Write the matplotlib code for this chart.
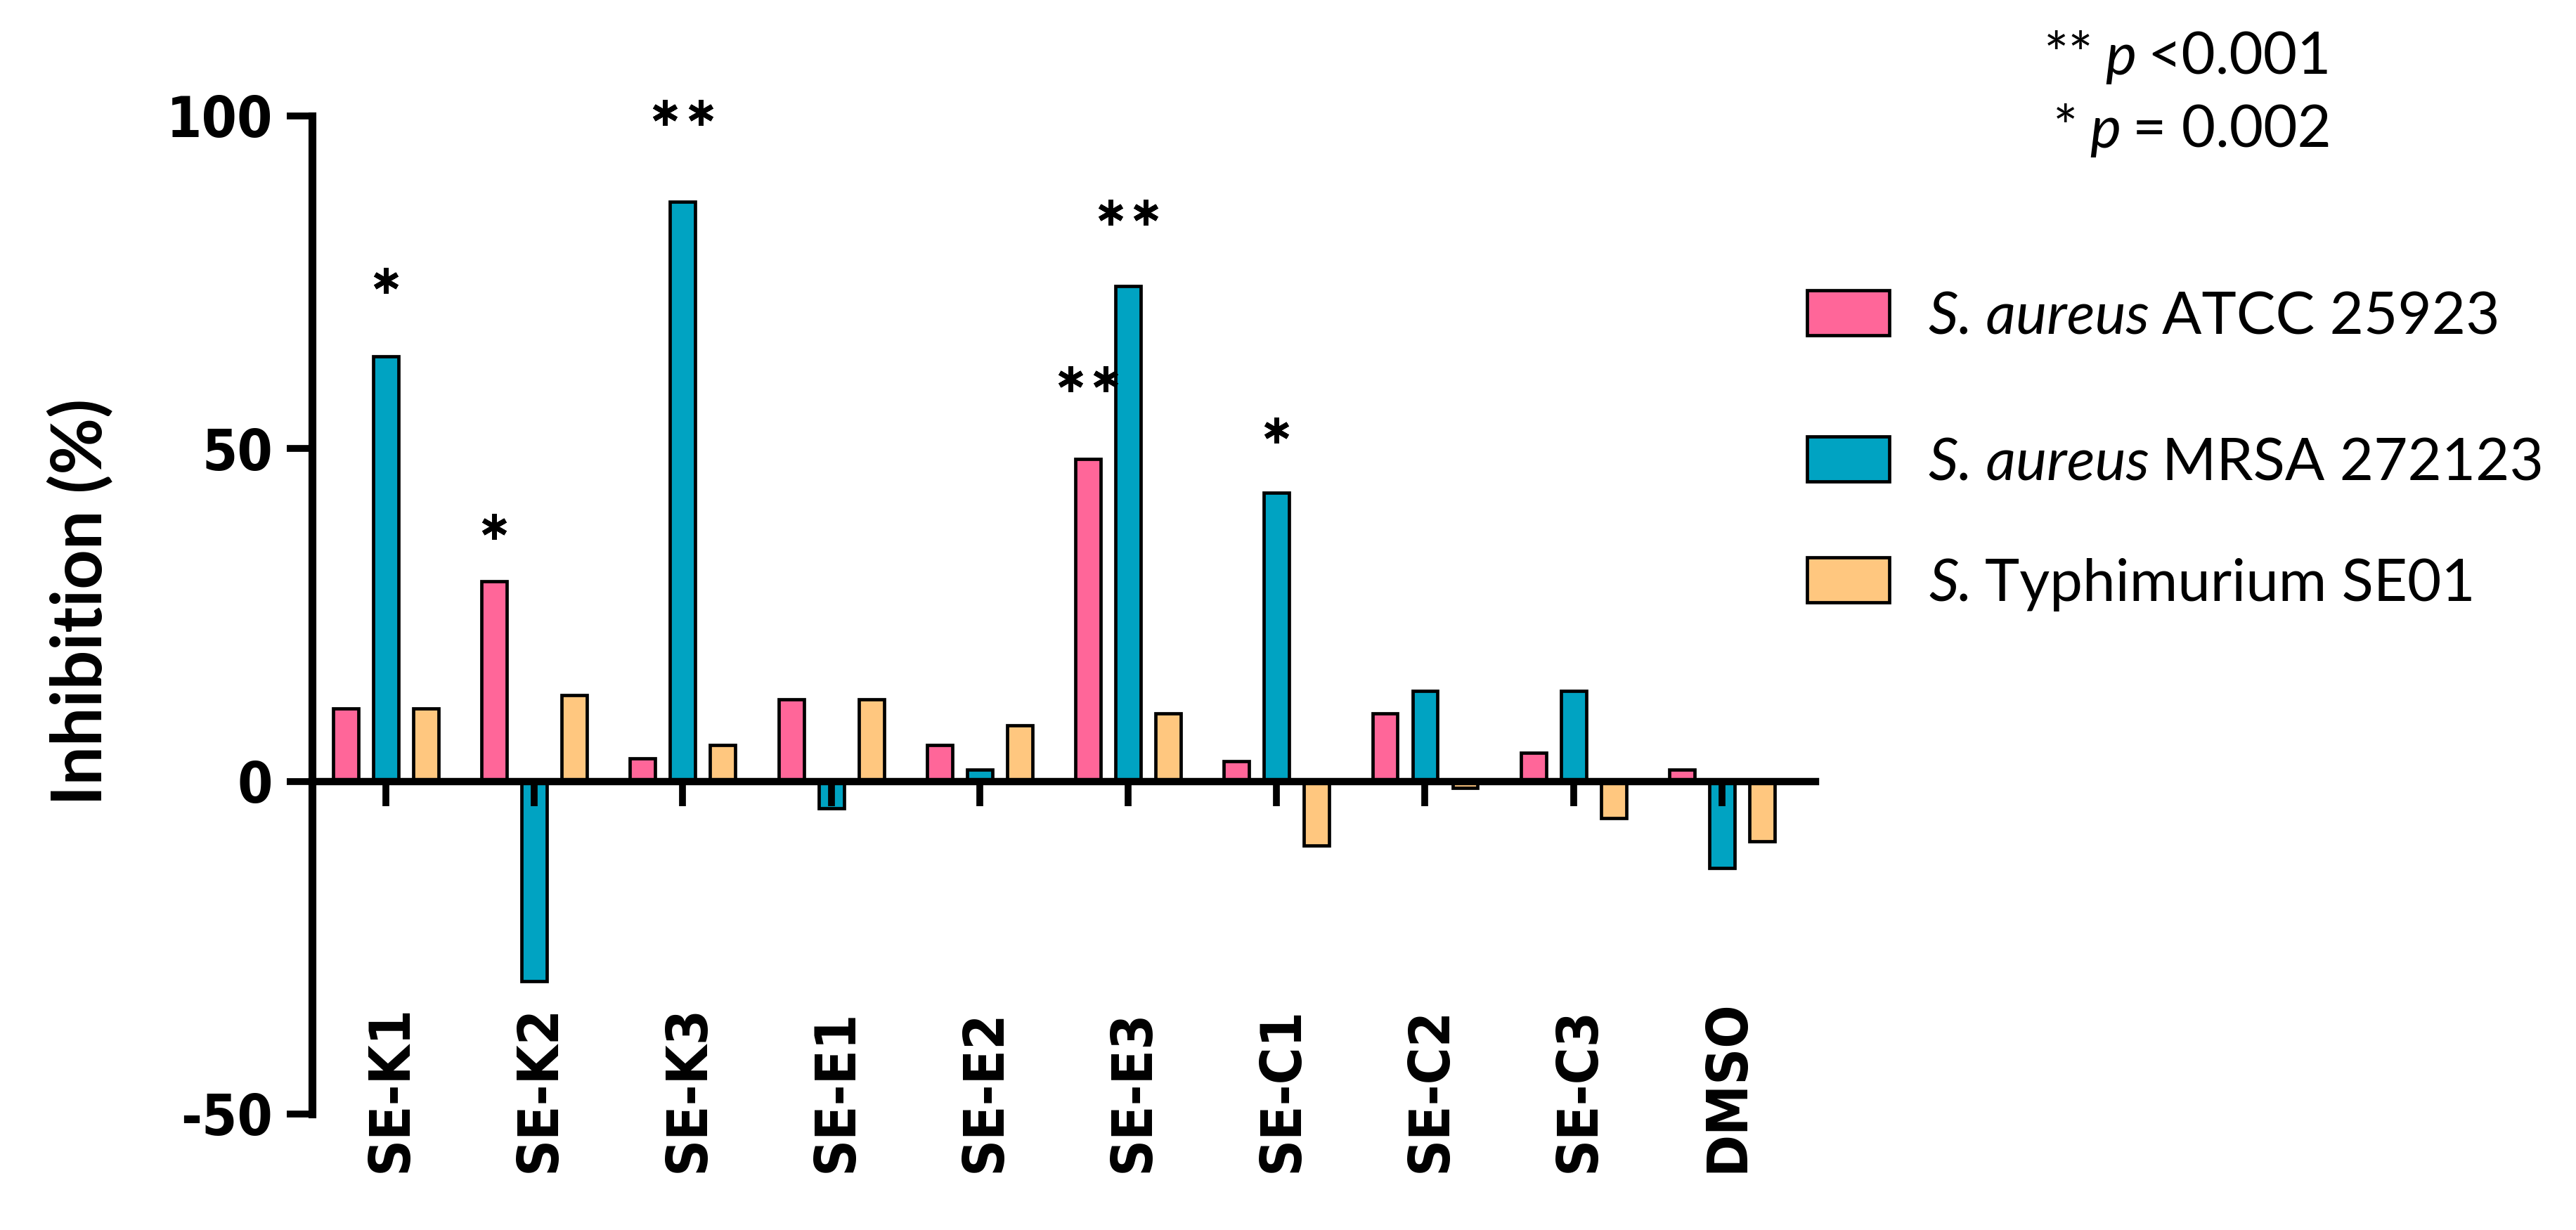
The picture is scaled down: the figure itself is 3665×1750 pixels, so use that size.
import matplotlib
matplotlib.use('Agg')
import matplotlib.pyplot as plt
from matplotlib.transforms import IdentityTransform, offset_copy
from matplotlib.patches import Rectangle
from matplotlib.font_manager import FontProperties

# ---------------- data ----------------
categories = ['SE-K1', 'SE-K2', 'SE-K3', 'SE-E1', 'SE-E2',
              'SE-E3', 'SE-C1', 'SE-C2', 'SE-C3', 'DMSO']
atcc = [11.0, 30.1, 3.5, 12.3, 5.5, 48.5, 3.0, 10.2, 4.3, 1.8]
mrsa = [63.9, -30.0, 87.1, -4.1, 1.8, 74.4, 43.4, 13.6, 13.6, -13.0]
typh = [11.0, 13.0, 5.5, 12.3, 8.4, 10.2, -9.6, -1.0, -5.5, -9.0]
yticks = [-50, 0, 50, 100]

# significance marks: group index, series index, number of stars, height
star_group = [0, 1, 2, 5, 5, 6]
star_series = [1, 0, 1, 0, 1, 1]
star_count = [1, 1, 2, 2, 2, 1]
star_y = [75.3, 38.3, 100.5, 60.5, 85.5, 52.8]

legend_species = ['S. aureus', 'S. aureus', 'S.']
legend_rest = ['ATCC 25923', 'MRSA 272123', 'Typhimurium SE01']
sig_stars = ['**', '*']
sig_rest = ['<0.001', '= 0.002']

colors = ['#FF6699', '#00A3C2', '#FFC77F']
series = [atcc, mrsa, typh]

# ---------------- figure ----------------
W, H, DPI = 3666, 1750, 100
fig = plt.figure(figsize=(W / DPI, H / DPI), dpi=DPI)
ax = fig.add_axes([444 / W, (H - 1585) / H, (2583 - 444) / W, (1585 - 165) / H])

n = len(categories)
xs = list(range(n))
offsets = [-0.27, 0.0, 0.27]
bw = 0.17
for vals, off, col in zip(series, offsets, colors):
    ax.bar([x + off for x in xs], vals, width=bw, color=col,
           edgecolor='black', linewidth=3.4, zorder=1)

ax.set_xlim(-0.497, 9.63)
ax.set_ylim(-50, 100)

for s in ['top', 'right']:
    ax.spines[s].set_visible(False)
ax.spines['bottom'].set_position(('data', 0))
ax.spines['left'].set_linewidth(8)
ax.spines['bottom'].set_linewidth(7.5)

tick_fp = FontProperties(family='DejaVu Sans', weight='bold',
                         stretch='condensed', size=58)

ax.set_xticks(xs)
ax.set_xticklabels([])
ax.tick_params(axis='x', direction='out', length=25, width=7)
ax.set_yticks(yticks)
ax.set_yticklabels([str(v) for v in yticks])
ax.tick_params(axis='y', direction='out', length=26, width=7, pad=14)
for lbl in ax.get_yticklabels():
    lbl.set_fontproperties(tick_fp)

lab_tr = offset_copy(ax.transData, fig=fig, x=8, y=0, units='dots')
for i, c in enumerate(categories):
    ax.text(i, -58.8, c, rotation=90, ha='center', va='bottom',
            fontproperties=tick_fp, transform=lab_tr, clip_on=False)

# significance stars
for g, s, k, y in zip(star_group, star_series, star_count, star_y):
    cx = g + offsets[s]
    if k == 1:
        px = [cx]
    else:
        px = [cx - 0.12, cx + 0.12]
    ax.plot(px, [y] * len(px), linestyle='none', marker=(6, 2, 0),
            markersize=26, markeredgewidth=5, color='black',
            clip_on=False, zorder=5)

# y label
fig.text(115 / W, 1 - 856 / H, 'Inhibition (%)', rotation=90,
         ha='center', va='center', family='Lato', weight='bold', fontsize=71)

# ---------------- text runs in pixel space ----------------
renderer = fig.canvas.get_renderer()
ID = IdentityTransform()


def draw_runs(x, ytop_base, parts, size, align='left', gap_em=0.22):
    gap = gap_em * size * DPI / 72.0
    ybase = H - ytop_base
    objs = []
    for txt, style in parts:
        t = fig.text(0, ybase, txt, transform=ID, family='Lato', style=style,
                     fontsize=size, ha='left', va='baseline')
        objs.append(t)
    widths = [t.get_window_extent(renderer).width for t in objs]
    total = sum(widths) + gap * (len(objs) - 1)
    cur = x - total if align == 'right' else x
    for t, w in zip(objs, widths):
        t.set_x(cur)
        cur += w + gap


LEG_SIZE = 60
patch_centers = [445, 653, 825]
for cy, col, sp, rest in zip(patch_centers, colors, legend_species, legend_rest):
    r = Rectangle((2571, H - cy - 32), 117, 64, transform=ID,
                  facecolor=col, edgecolor='black', linewidth=3.4)
    fig.patches.append(r)
    draw_runs(2744, cy + 30, [(sp, 'italic'), (rest, 'normal')], LEG_SIZE)

for yb, st, rest in zip([106, 210], sig_stars, sig_rest):
    draw_runs(3317, yb, [(st, 'normal'), ('p', 'italic'), (rest, 'normal')],
              LEG_SIZE, align='right', gap_em=0.2)

fig.savefig('out.png', dpi=DPI)
